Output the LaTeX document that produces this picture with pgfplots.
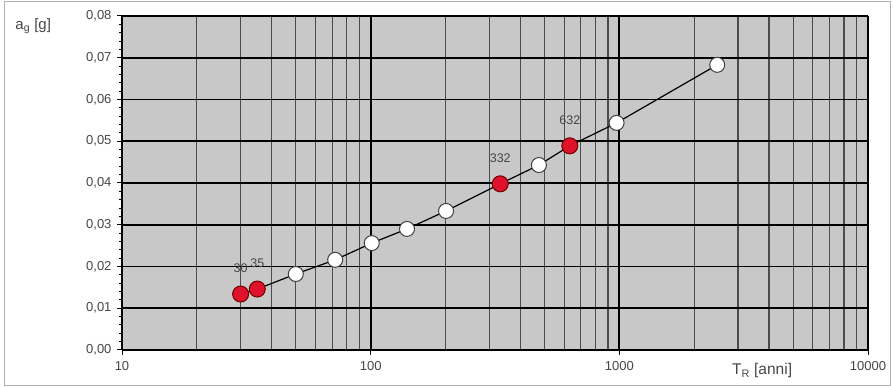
\documentclass[border=0pt]{standalone}
\usepackage{pgfplots}
\pgfplotsset{compat=1.18}
\usepackage{fontspec}
\setmainfont{Liberation Sans}
\definecolor{bggray}{RGB}{200,200,200}
\definecolor{txtgray}{RGB}{70,70,70}
\definecolor{redpt}{RGB}{222,18,42}
\begin{document}
\begin{tikzpicture}
\begin{axis}[
  at={(0pt,0pt)}, anchor=south west,
  scale only axis, width=746pt, height=334pt,
  xmode=log, xmin=10, xmax=10000,
  ymin=0, ymax=0.08,
  xtick={10,100,1000,10000}, xticklabels={10,100,1000,10000},
  ytick={0,0.01,...,0.081},
  scaled y ticks=false,
  minor y tick num=4,
  axis background/.style={fill=bggray},
  axis x line*=bottom, axis y line*=left,
  axis line style={-, black, line width=1.5pt},
  xmajorgrids, xminorgrids, ymajorgrids,
  major grid style={black, line width=1.8pt},
  minor grid style={black!70, line width=1.2pt},
  tick align=outside,
  major tick length=5pt, minor tick length=3pt,
  tick style={black, line width=1pt},
  minor x tick style={draw=none},
  /pgf/number format/.cd, use comma, fixed, fixed zerofill, precision=2, assume math mode=true,
  /pgfplots/.cd,
  every tick label/.append style={font=\fontsize{13}{15}\selectfont, text=txtgray},
  yticklabel style={xshift=-2pt},
  xticklabel style={yshift=-3pt},
  clip=false,
]
\addplot[black, line width=1.2pt, mark=*, mark size=7.5pt,
  mark options={fill=white, draw=black!75, line width=1pt}] coordinates {
 (30,0.0134) (35,0.0146) (50,0.0182) (72,0.0216) (101,0.0256) (140,0.0290)
 (201,0.0333) (332,0.0398) (475,0.0443) (632,0.0489) (975,0.0544) (2475,0.0683)
};
\addplot[only marks, mark=*, mark size=8pt,
  mark options={fill=redpt, draw=red!45!black, line width=1pt},
  nodes near coords, point meta=explicit symbolic,
  every node near coord/.append style={anchor=center, yshift=26pt,
    font=\fontsize{12.5}{14}\selectfont, text=txtgray}] coordinates {
 (30,0.0134) [30] (35,0.0146) [35] (332,0.0398) [332] (632,0.0489) [632]
};
\node[font=\fontsize{15}{17}\selectfont, text=txtgray] at (axis description cs:-0.119,0.97) {a\textsubscript{g} [g]};
\node[font=\fontsize{15.5}{17}\selectfont, text=txtgray] at (axis description cs:0.858,-0.062) {T\textsubscript{R} [anni]};
\end{axis}
\draw[black!30, line width=0.8pt] (-118pt,-35pt) rectangle (768pt,349pt);
\useasboundingbox (-122pt,-37pt) rectangle (772pt,350pt);
\end{tikzpicture}
\end{document}
